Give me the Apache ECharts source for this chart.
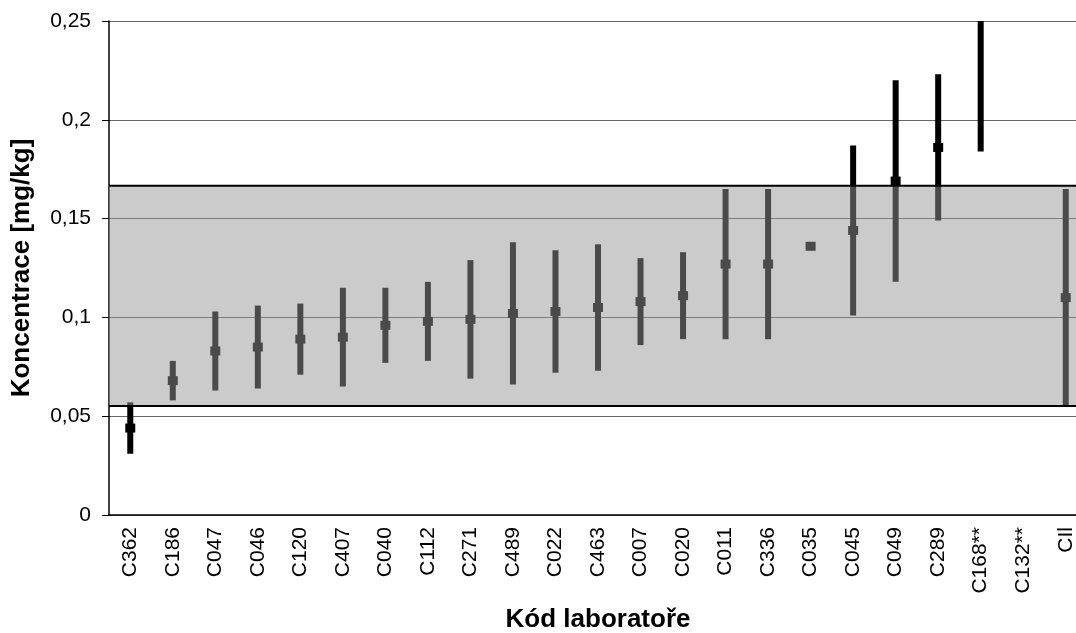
<!DOCTYPE html>
<html>
<head>
<meta charset="utf-8">
<script src="https://cdn.jsdelivr.net/npm/echarts@6/dist/echarts.min.js"></script>
<style>
  html, body { margin: 0; padding: 0; background: #fff; }
  #chart { width: 1076px; height: 633px; }
</style>
</head>
<body>
<div id="chart"></div>
<script>
  // kódy laboratoří
  const categories = ['C362', 'C186', 'C047', 'C046', 'C120', 'C407', 'C040', 'C112', 'C271', 'C489',
    'C022', 'C463', 'C007', 'C020', 'C011', 'C336', 'C035', 'C045', 'C049', 'C289', 'C168**', 'C132**', 'CIl'];
  // výsledek a nejistota (dolní / horní mez)
  const values = [0.044, 0.068, 0.083, 0.085, 0.089, 0.090, 0.096, 0.098, 0.099, 0.102,
    0.103, 0.105, 0.108, 0.111, 0.127, 0.127, 0.136, 0.144, 0.169, 0.186, null, null, 0.110];
  const lows = [0.031, 0.058, 0.063, 0.064, 0.071, 0.065, 0.077, 0.078, 0.069, 0.066,
    0.072, 0.073, 0.086, 0.089, 0.089, 0.089, null, 0.101, 0.118, 0.149, 0.184, null, 0.055];
  const highs = [0.057, 0.078, 0.103, 0.106, 0.107, 0.115, 0.115, 0.118, 0.129, 0.138,
    0.134, 0.137, 0.130, 0.133, 0.165, 0.165, null, 0.187, 0.220, 0.223, 0.25, null, 0.165];
  // pásmo tolerance
  const band = [0.0551, 0.1666];
  const yTicks = [0, 0.05, 0.1, 0.15, 0.2, 0.25];

  const chart = echarts.init(document.getElementById('chart'));

  const ok = v => v !== null && v !== undefined && !isNaN(v);

  function renderBar(params, api) {
    const i = params.dataIndex;
    const x = api.coord([i, 0])[0];
    const children = [];
    if (ok(lows[i]) && ok(highs[i])) {
      const y1 = api.coord([i, highs[i]])[1];
      const y2 = api.coord([i, lows[i]])[1];
      children.push({ type: 'rect', shape: { x: x - 3, y: y1, width: 6, height: y2 - y1 }, style: { fill: '#000' } });
    }
    if (ok(values[i])) {
      const y = api.coord([i, values[i]])[1];
      children.push({ type: 'rect', shape: { x: x - 5, y: y - 4.5, width: 10, height: 9 }, style: { fill: '#000' } });
    }
    return { type: 'group', children };
  }

  function renderBand(params, api) {
    const cs = params.coordSys;
    const yTop = api.coord([0, band[1]])[1];
    const yBot = api.coord([0, band[0]])[1];
    return {
      type: 'group',
      children: [
        { type: 'rect', shape: { x: cs.x, y: yTop, width: cs.width, height: yBot - yTop },
          style: { fill: 'rgba(150,150,150,0.494)' } },
        { type: 'line', shape: { x1: cs.x, y1: yTop, x2: cs.x + cs.width, y2: yTop }, style: { stroke: '#000', lineWidth: 2 } },
        { type: 'line', shape: { x1: cs.x, y1: yBot, x2: cs.x + cs.width, y2: yBot }, style: { stroke: '#000', lineWidth: 2 } }
      ]
    };
  }

  const option = {
    animation: false,
    textStyle: { fontFamily: 'Liberation Sans, Arial, sans-serif' },
    grid: { left: 109, top: 21, right: -11, bottom: 118, containLabel: false, outerBoundsMode: 'none' },
    xAxis: [
      {
        type: 'category',
        data: categories,
        name: 'Kód laboratoře',
        nameLocation: 'middle',
        nameGap: 92,
        nameTextStyle: { fontSize: 26, fontWeight: 'bold', color: '#000' },
        axisLine: { lineStyle: { color: '#000', width: 1.5 } },
        axisTick: { length: 7, lineStyle: { color: '#000' } },
        axisLabel: { rotate: 90, fontSize: 21, color: '#000', margin: 12, interval: 0 },
        splitLine: { show: false }
      },
      {
        type: 'category',
        data: categories,
        position: 'bottom',
        axisLine: { show: false },
        axisTick: { inside: true, length: 6, lineStyle: { color: '#000' } },
        axisLabel: { show: false }
      }
    ],
    yAxis: {
      type: 'value',
      min: 0,
      max: 0.25,
      interval: 0.05,
      name: 'Koncentrace [mg/kg]',
      nameLocation: 'middle',
      nameGap: 74,
      nameTextStyle: { fontSize: 26, fontWeight: 'bold', color: '#000' },
      axisLine: { show: true, lineStyle: { color: '#000', width: 1.5 } },
      axisTick: { show: true, length: 7, lineStyle: { color: '#000' } },
      axisLabel: {
        fontSize: 21, color: '#000', margin: 18,
        formatter: v => {
          const t = yTicks.find(k => Math.abs(k - v) < 1e-9);
          return String(t !== undefined ? t : v).replace('.', ',');
        }
      },
      splitLine: { lineStyle: { color: '#666', width: 1 } }
    },
    series: [
      {
        type: 'custom',
        renderItem: renderBar,
        clip: true,
        z: 2,
        data: categories.map((c, i) => [i, values[i]])
      },
      {
        type: 'custom',
        renderItem: renderBand,
        clip: true,
        z: 10,
        silent: true,
        data: [[0, band[0]]]
      }
    ]
  };

  chart.setOption(option);
</script>
</body>
</html>
